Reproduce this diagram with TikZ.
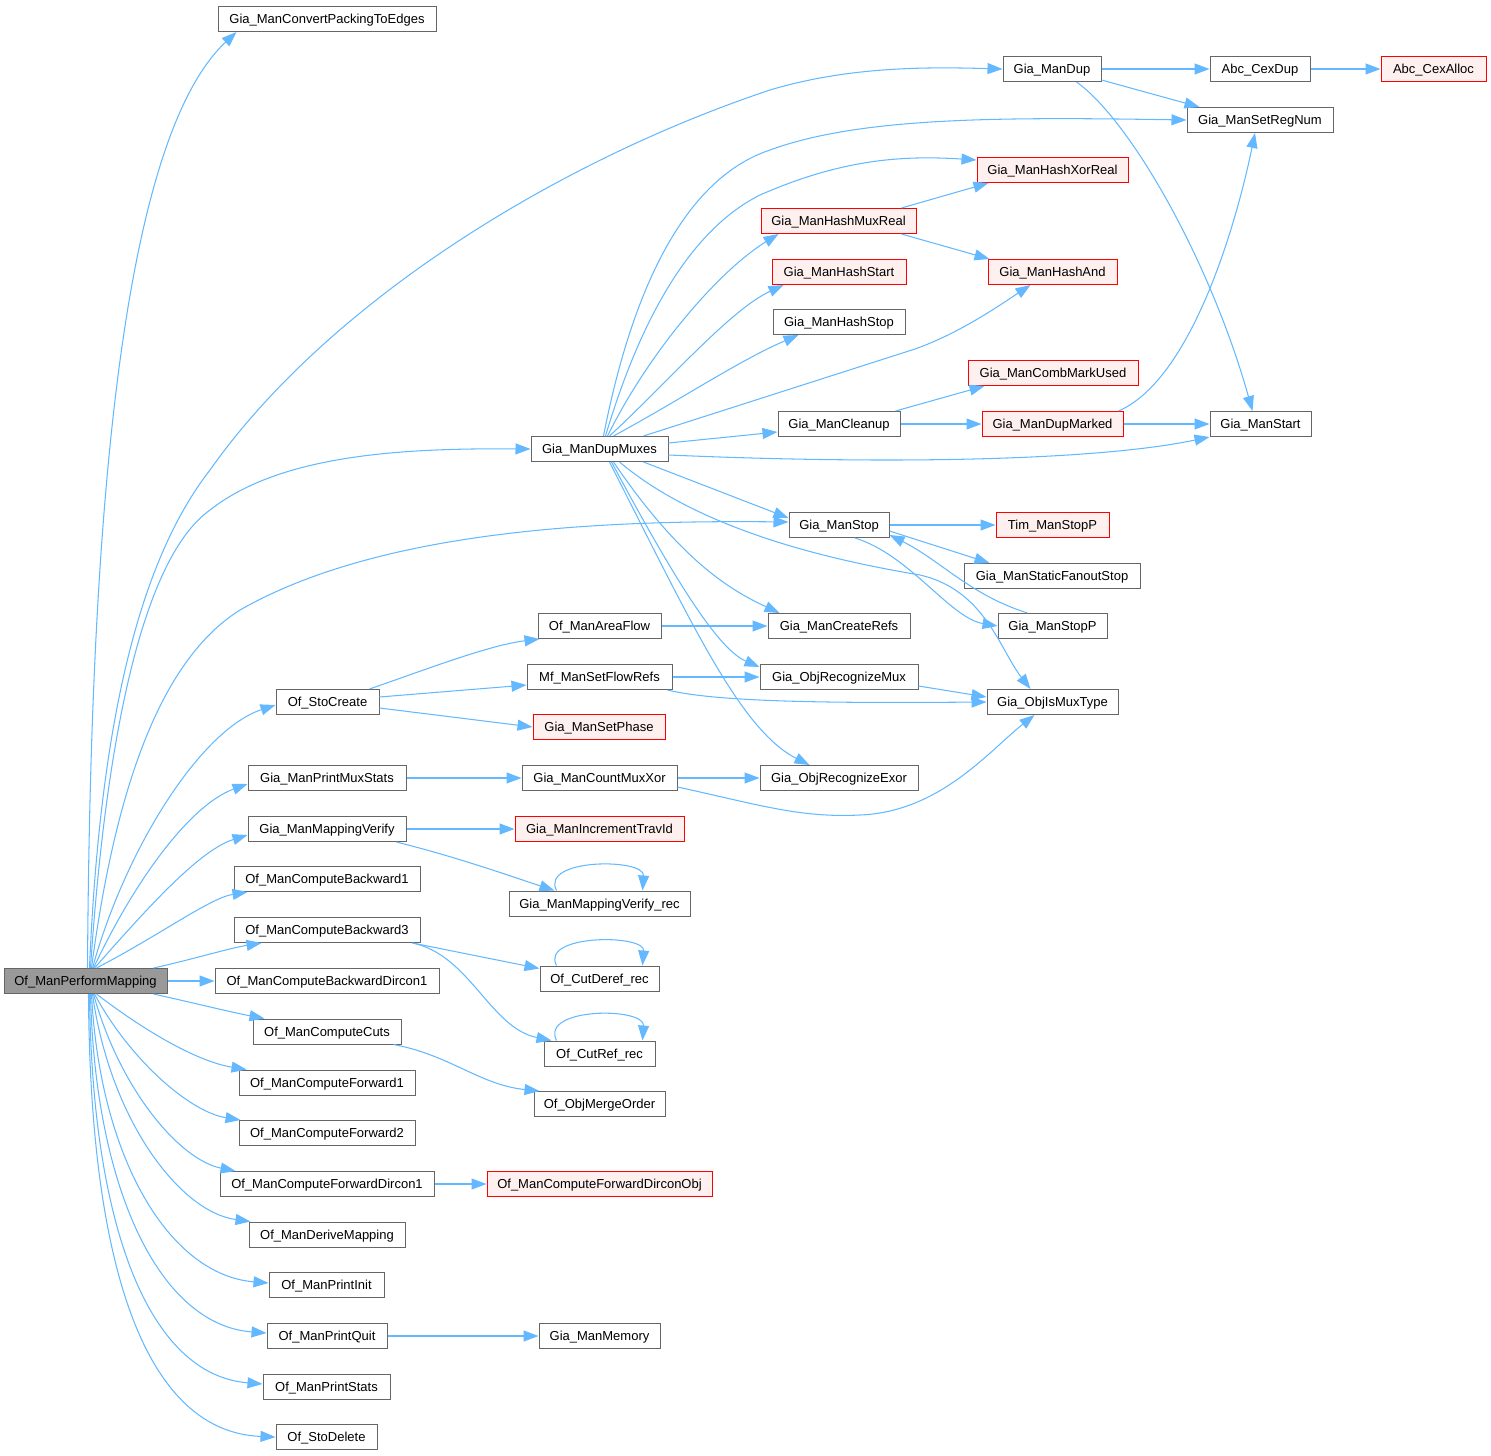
\documentclass[tikz,border=0pt]{standalone}
\usepackage{fontspec}
\setmainfont{Liberation Sans}
\usetikzlibrary{arrows.meta}
\definecolor{edgec}{HTML}{63B8FF}
\definecolor{boxc}{HTML}{666666}
\definecolor{redfill}{HTML}{FFF0F0}
\definecolor{rootfill}{HTML}{999999}
\tikzset{
  box/.style={draw=boxc, fill=white, line width=1pt, minimum height=25pt, inner xsep=3pt, inner ysep=0pt,
    text height=9.6pt, text depth=0pt,
    font=\fontsize{13}{14}\selectfont, anchor=center},
  redbox/.style={box, draw=red, fill=redfill},
  rootbox/.style={box, fill=rootfill},
  edge/.style={draw=edgec, line width=1.05pt, -{Triangle[length=15pt,width=11pt]}},
}
\begin{document}
\begin{tikzpicture}[x=1pt,y=-1pt]
\useasboundingbox (0,0) rectangle (1491,1456);
% nodes
\node[rootbox, minimum width=163] (root) at (85.5,981) {Of\_ManPerformMapping};
\node[box, minimum width=218] (conv) at (327,19) {Gia\_ManConvertPackingToEdges};
\node[box, minimum width=98] (dup) at (1052,69) {Gia\_ManDup};
\node[box, minimum width=100] (cexdup) at (1260,69) {Abc\_CexDup};
\node[redbox, minimum width=105] (cexalloc) at (1433.5,69) {Abc\_CexAlloc};
\node[box, minimum width=146] (setreg) at (1260,120) {Gia\_ManSetRegNum};
\node[redbox, minimum width=151] (hxor) at (1052.5,170) {Gia\_ManHashXorReal};
\node[redbox, minimum width=155] (hmux) at (838.5,221) {Gia\_ManHashMuxReal};
\node[redbox, minimum width=134] (hstart) at (839,272) {Gia\_ManHashStart};
\node[redbox, minimum width=129] (hand) at (1052.5,272) {Gia\_ManHashAnd};
\node[box, minimum width=132] (hstop) at (839,322) {Gia\_ManHashStop};
\node[redbox, minimum width=170] (comb) at (1053,373) {Gia\_ManCombMarkUsed};
\node[box, minimum width=122] (cleanup) at (839,424) {Gia\_ManCleanup};
\node[redbox, minimum width=141] (dupmarked) at (1052.5,424) {Gia\_ManDupMarked};
\node[box, minimum width=101] (start) at (1260.5,424) {Gia\_ManStart};
\node[box, minimum width=137] (dupmux) at (599.5,449) {Gia\_ManDupMuxes};
\node[box, minimum width=100] (stop) at (839,525) {Gia\_ManStop};
\node[redbox, minimum width=113] (timstop) at (1052.5,525) {Tim\_ManStopP};
\node[box, minimum width=176] (static) at (1052,576) {Gia\_ManStaticFanoutStop};
\node[box, minimum width=123] (areaflow) at (599.5,626) {Of\_ManAreaFlow};
\node[box, minimum width=142] (createrefs) at (839,626) {Gia\_ManCreateRefs};
\node[box, minimum width=109] (stopp) at (1052.5,626) {Gia\_ManStopP};
\node[box, minimum width=145] (setflow) at (599.5,677) {Mf\_ManSetFlowRefs};
\node[box, minimum width=158] (recmux) at (839,677) {Gia\_ObjRecognizeMux};
\node[box, minimum width=103] (stocreate) at (327.5,702) {Of\_StoCreate};
\node[box, minimum width=131] (ismux) at (1052.5,702) {Gia\_ObjIsMuxType};
\node[redbox, minimum width=132] (setphase) at (599,727) {Gia\_ManSetPhase};
\node[box, minimum width=158] (printmux) at (327,778) {Gia\_ManPrintMuxStats};
\node[box, minimum width=155] (countmux) at (599.5,778) {Gia\_ManCountMuxXor};
\node[box, minimum width=158] (recexor) at (839,778) {Gia\_ObjRecognizeExor};
\node[box, minimum width=158] (mapver) at (327,829) {Gia\_ManMappingVerify};
\node[redbox, minimum width=169] (travid) at (599.5,829) {Gia\_ManIncrementTravId};
\node[box, minimum width=181] (mapverrec) at (599.5,903.5) {Gia\_ManMappingVerify\_rec};
\node[box, minimum width=186] (back1) at (327,879) {Of\_ManComputeBackward1};
\node[box, minimum width=186] (back3) at (327,930) {Of\_ManComputeBackward3};
\node[box, minimum width=119] (cutderef) at (599.5,978.5) {Of\_CutDeref\_rec};
\node[box, minimum width=224] (backdir) at (327,981) {Of\_ManComputeBackwardDircon1};
\node[box, minimum width=148] (cuts) at (327,1031.5) {Of\_ManComputeCuts};
\node[box, minimum width=111] (cutref) at (599.5,1053.5) {Of\_CutRef\_rec};
\node[box, minimum width=176] (fwd1) at (327,1082.5) {Of\_ManComputeForward1};
\node[box, minimum width=131] (merge) at (599.5,1104) {Of\_ObjMergeOrder};
\node[box, minimum width=176] (fwd2) at (327,1133) {Of\_ManComputeForward2};
\node[box, minimum width=214] (fwddir) at (327,1184) {Of\_ManComputeForwardDircon1};
\node[redbox, minimum width=225] (fwddirobj) at (599.5,1184) {Of\_ManComputeForwardDirconObj};
\node[box, minimum width=156] (derive) at (327,1234.5) {Of\_ManDeriveMapping};
\node[box, minimum width=115] (init) at (326.5,1285) {Of\_ManPrintInit};
\node[box, minimum width=120] (quit) at (327,1336) {Of\_ManPrintQuit};
\node[box, minimum width=121] (memory) at (599.5,1336) {Gia\_ManMemory};
\node[box, minimum width=127] (pstats) at (326.5,1387) {Of\_ManPrintStats};
\node[box, minimum width=101] (stodelete) at (326.5,1437) {Of\_StoDelete};
% root edges
\draw[edge] ([xshift=2pt]root.north) .. controls (90,600) and (110,150) .. ([xshift=19pt]conv.south west);
\draw[edge] ([xshift=4pt]root.north) .. controls (100,720) and (140,560) .. (210,470) .. controls (330,300) and (560,160) .. (770,90) .. controls (850,66) and (930,67) .. (dup.west);
\draw[edge] ([xshift=5pt]root.north) .. controls (105,750) and (140,560) .. (210,510) .. controls (280,455) and (400,448) .. (dupmux.west);
\draw[edge] ([xshift=6pt]root.north) .. controls (115,790) and (160,660) .. (240,610) .. controls (380,530) and (600,520) .. ([yshift=3pt]stop.west);
\draw[edge] ([xshift=7pt]root.north) .. controls (125,850) and (200,730) .. ([yshift=-3pt]stocreate.west);
\draw[edge] ([xshift=8pt]root.north) .. controls (135,880) and (190,805) .. ([yshift=-6pt]printmux.west);
\draw[edge] ([xshift=9pt]root.north) .. controls (150,905) and (200,850) .. ([yshift=-6pt]mapver.west);
\draw[edge] ([xshift=11pt]root.north) .. controls (160,935) and (210,898) .. ([xshift=14pt]back1.south west);
\draw[edge] ([xshift=-14pt]root.north east) .. controls (190,960) and (230,948) .. ([xshift=28pt]back3.south west);
\draw[edge] (root.east) -- (backdir.west);
\draw[edge] ([xshift=-14pt]root.south east) .. controls (190,1002) and (230,1012) .. ([xshift=12pt]cuts.north west);
\draw[edge] ([xshift=11pt]root.south) .. controls (150,1035) and (200,1062) .. ([xshift=8pt]fwd1.north west);
\draw[edge] ([xshift=9pt]root.south) .. controls (130,1060) and (190,1112) .. ([xshift=2pt]fwd2.north west);
\draw[edge] ([xshift=8pt]root.south) .. controls (120,1090) and (180,1160) .. ([xshift=16pt]fwddir.north west);
\draw[edge] ([xshift=7pt]root.south) .. controls (110,1120) and (180,1212) .. ([xshift=2pt]derive.north west);
\draw[edge] ([xshift=6pt]root.south) .. controls (100,1160) and (170,1275) .. ([yshift=2pt]init.west);
\draw[edge] ([xshift=5pt]root.south) .. controls (95,1190) and (160,1325) .. ([yshift=3pt]quit.west);
\draw[edge] ([xshift=4pt]root.south) .. controls (92,1230) and (150,1375) .. ([yshift=3pt]pstats.west);
\draw[edge] ([xshift=3pt]root.south) .. controls (90,1280) and (150,1432) .. (stodelete.west);
% DupMuxes edges
\draw[edge] ([xshift=4pt]dupmux.north) .. controls (630,300) and (680,180) .. (770,150) .. controls (860,117) and (1000,117) .. (setreg.west);
\draw[edge] ([xshift=6pt]dupmux.north) .. controls (640,320) and (690,230) .. (760,195) .. controls (840,160) and (900,155) .. ([yshift=-3pt]hxor.north west);
\draw[edge] ([xshift=8pt]dupmux.north) .. controls (650,350) and (720,270) .. ([xshift=18pt]hmux.south west);
\draw[edge] ([xshift=10pt]dupmux.north) .. controls (670,380) and (730,310) .. ([xshift=12pt]hstart.south west);
\draw[edge] ([xshift=14pt]dupmux.north) .. controls (680,400) and (740,360) .. ([xshift=26pt]hstop.south west);
\draw[edge] ([xshift=-25pt]dupmux.north east) -- (915,349) .. controls (960,333) and (1000,305) .. ([xshift=-22pt]hand.south);
\draw[edge] ([yshift=6pt]dupmux.east) -- ([yshift=-8pt]cleanup.west);
\draw[edge] ([yshift=-6pt]dupmux.east) .. controls (900,465) and (1100,460) .. (start.south west);
\draw[edge] ([xshift=-25pt]dupmux.south east) -- ([yshift=7pt]stop.west);
\draw[edge] ([xshift=14pt]dupmux.south) .. controls (680,560) and (730,590) .. ([xshift=12pt]createrefs.north west);
\draw[edge] ([xshift=12pt]dupmux.south) .. controls (680,590) and (720,650) .. ([yshift=-3pt]recmux.north west);
\draw[edge] ([xshift=10pt]dupmux.south) .. controls (690,620) and (740,730) .. ([xshift=50pt]recexor.north west);
\draw[edge] ([xshift=20pt]dupmux.south) .. controls (700,530) and (830,560) .. (920,575) .. controls (985,590) and (1000,650) .. ([xshift=-22pt]ismux.north);
% other edges
\draw[edge] (dup) -- (cexdup);
\draw[edge] (cexdup) -- (cexalloc);
\draw[edge] ([yshift=2pt]dup.south east) -- ([xshift=13pt]setreg.north west);
\draw[edge] ([xshift=-25pt]dup.south east) .. controls (1130,120) and (1210,260) .. ([xshift=-8pt]start.north);
\draw[edge] ([xshift=-15pt]hmux.north east) -- ([xshift=12pt]hxor.south west);
\draw[edge] ([xshift=-15pt]hmux.south east) -- ([xshift=2pt]hand.north west);
\draw[edge] ([xshift=-5pt]cleanup.north east) -- ([xshift=17pt]comb.south west);
\draw[edge] (cleanup) -- (dupmarked);
\draw[edge] ([xshift=-5pt]dupmarked.north east) .. controls (1190,380) and (1235,230) .. ([xshift=-5pt]setreg.south);
\draw[edge] (dupmarked) -- (start);
\draw[edge] (stop) -- (timstop);
\draw[edge] ([yshift=-6pt]stop.east) -- ([xshift=26pt]static.north west);
\draw[edge] ([xshift=16pt]stop.south) .. controls (910,555) and (950,618) .. (stopp.west);
\draw[edge] ([xshift=-25pt]stopp.north) .. controls (970,595) and (940,560) .. ([yshift=-10pt]stop.east);
\draw[edge] (areaflow) -- (createrefs);
\draw[edge] ([xshift=-10pt]stocreate.north east) .. controls (430,668) and (490,645) .. ([xshift=2pt]areaflow.south west);
\draw[edge] ([yshift=5pt]stocreate.east) -- ([yshift=-8pt]setflow.west);
\draw[edge] ([yshift=-6pt]stocreate.east) -- (setphase.west);
\draw[edge] (setflow) -- (recmux);
\draw[edge] ([xshift=-5pt]setflow.south east) .. controls (720,703) and (850,703) .. (ismux.west);
\draw[edge] ([yshift=-9pt]recmux.east) -- ([yshift=5pt]ismux.west);
\draw[edge] (printmux) -- (countmux);
\draw[edge] (countmux) -- (recexor);
\draw[edge] ([yshift=-9pt]countmux.east) .. controls (760,805) and (800,818) .. (860,815) .. controls (940,812) and (990,750) .. ([xshift=-18pt]ismux.south);
\draw[edge] (mapver) -- (travid);
\draw[edge] ([xshift=-10pt]mapver.south east) .. controls (460,858) and (510,876) .. ([xshift=46pt]mapverrec.north west);
\draw[edge] ([xshift=-43pt]mapverrec.north) .. controls (540,858) and (645,858) .. ([xshift=43pt]mapverrec.north);
\draw[edge] ([xshift=-43pt]cutderef.north) .. controls (540,934) and (645,934) .. ([xshift=43pt]cutderef.north);
\draw[edge] ([xshift=-43pt]cutref.north) .. controls (540,1007) and (645,1007) .. ([xshift=43pt]cutref.north);
\draw[edge] ([xshift=-8pt]back3.south east) -- ([yshift=10pt]cutderef.west);
\draw[edge] ([xshift=-8pt]back3.south east) .. controls (470,955) and (490,1028) .. ([xshift=8pt]cutref.north west);
\draw[edge] ([xshift=-8pt]cuts.south east) .. controls (450,1055) and (480,1085) .. ([xshift=6pt]merge.north west);
\draw[edge] (fwddir) -- (fwddirobj);
\draw[edge] (quit) -- (memory);
\end{tikzpicture}
\end{document}
